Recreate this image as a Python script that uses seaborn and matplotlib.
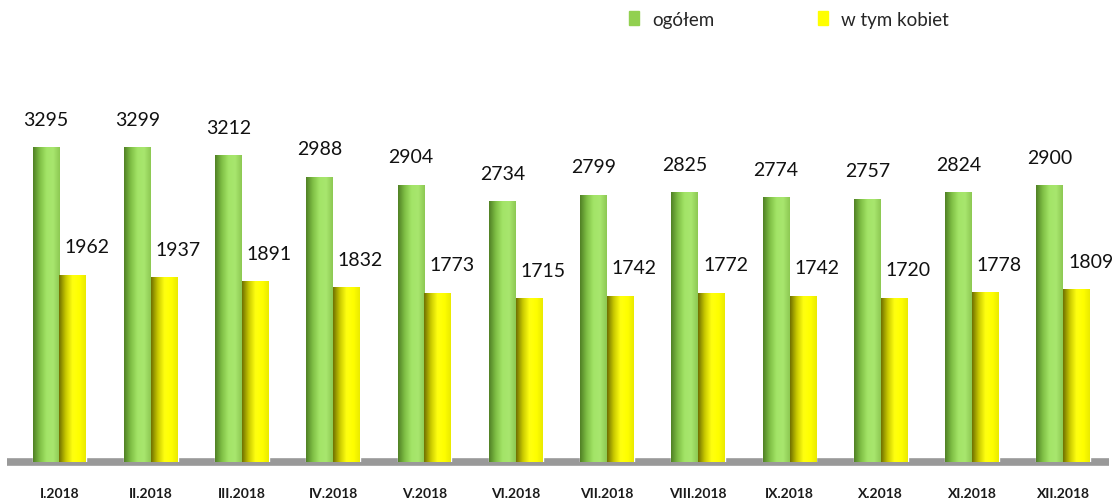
import numpy as np
import pandas as pd
import matplotlib
matplotlib.use("Agg")
import matplotlib.pyplot as plt
import matplotlib.patches as mpatches
from matplotlib.colors import LinearSegmentedColormap
import seaborn as sns

# data
months = ['I.2018', 'II.2018', 'III.2018', 'IV.2018', 'V.2018', 'VI.2018',
          'VII.2018', 'VIII.2018', 'IX.2018', 'X.2018', 'XI.2018', 'XII.2018']
ogolem = [3295, 3299, 3212, 2988, 2904, 2734, 2799, 2825, 2774, 2757, 2824, 2900]
kobiety = [1962, 1937, 1891, 1832, 1773, 1715, 1742, 1772, 1742, 1720, 1778, 1809]
series_names = ['ogółem', 'w tym kobiet']

df = pd.DataFrame({
    'miesiac': months * 2,
    'liczba': ogolem + kobiety,
    'seria': [series_names[0]] * len(months) + [series_names[1]] * len(months),
})

sns.set_theme(style="white")
plt.rcParams['font.family'] = ['Lato', 'DejaVu Sans']

green = '#92d050'
yellow = '#ffff00'

fig = plt.figure(figsize=(11.13, 5.02), dpi=100)
ax = fig.add_axes([0.0124, 0.0777, 0.984, 0.723])

sns.barplot(data=df, x='miesiac', y='liczba', hue='seria',
            palette=[green, yellow], width=0.59, gap=0,
            legend=False, ax=ax, zorder=2)

# cylinder-like shading of the bars
cmaps = [
    LinearSegmentedColormap.from_list('g', ['#4f7f24', '#7fbf45', '#a3e467', '#a8e66e', '#8cc852']),
    LinearSegmentedColormap.from_list('y', ['#6e6e00', '#c8c800', '#ffff10', '#ffff00', '#eaea00']),
]
grad = np.linspace(0, 1, 256).reshape(1, -1)
for cont, cmap in zip(ax.containers, cmaps):
    for p in cont.patches:
        x0, w, h = p.get_x(), p.get_width(), p.get_height()
        im = ax.imshow(grad, cmap=cmap, extent=[x0, x0 + w, 0, h],
                       aspect='auto', zorder=2.1, interpolation='bicubic')
        im.set_clip_path(p)

# value labels
for i, cont in enumerate(ax.containers):
    for p, v in zip(cont.patches, cont.datavalues):
        dx = 0 if i == 0 else 10
        ax.annotate(f'{int(v)}', (p.get_x() + p.get_width() / 2, p.get_height()),
                    xytext=(dx, 20), textcoords='offset points',
                    ha='center', va='center', fontsize=14, color='#111111')

# floor
ax.axhline(0, xmin=-0.006, xmax=1.0, color='#999999', lw=5.5, zorder=1,
           clip_on=False, solid_capstyle='butt')

ax.set_xlim(-0.5, len(months) - 0.5)
ax.set_ylim(0, 3800)
ax.set_xlabel('')
ax.set_ylabel('')
ax.set_yticks([])
ax.tick_params(axis='x', length=0, pad=18)
for lbl in ax.get_xticklabels():
    lbl.set_fontweight('bold')
    lbl.set_fontsize(10)
    lbl.set_color('#1a1a1a')
for s in ax.spines.values():
    s.set_visible(False)

handles = [mpatches.Patch(color=green, label=series_names[0]),
           mpatches.Patch(color=yellow, label=series_names[1])]
fig.legend(handles=handles, loc='center', bbox_to_anchor=(0.709, 0.96), ncol=2,
           frameon=False, fontsize=13.5, handlelength=0.55, handleheight=0.8,
           handletextpad=0.7, columnspacing=5.5)

fig.savefig('out.png', dpi=100)
